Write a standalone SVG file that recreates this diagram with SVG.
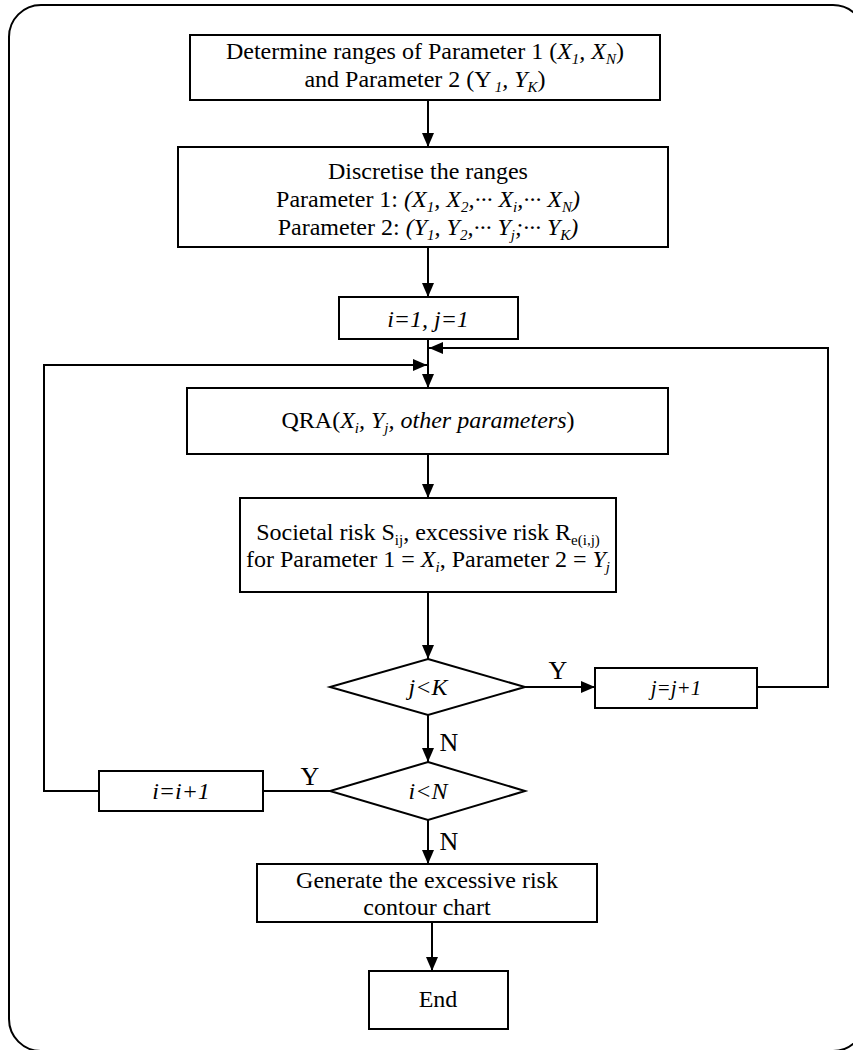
<svg xmlns="http://www.w3.org/2000/svg" width="853" height="1050" viewBox="0 0 853 1050">
<defs>
<marker id="arr" viewBox="0 0 14 12" refX="14" refY="6" markerWidth="14" markerHeight="12" markerUnits="userSpaceOnUse" orient="auto">
<path d="M0,0 L14,6 L0,12 Z" fill="#000"/>
</marker>
</defs>
<style>
.b{fill:#fff;stroke:#000;stroke-width:2}
.t{font-family:"Liberation Serif","Times New Roman",serif;font-size:24px;fill:#000;text-anchor:middle}
.l{font-size:26px}
.i{font-style:italic}
.s{font-size:15px}
.c{fill:none;stroke:#000;stroke-width:2}
.a{marker-end:url(#arr)}
</style>
<rect x="9" y="5" width="856" height="1046" rx="32" fill="#fff" stroke="#000" stroke-width="2"/>
<g id="connectors">
<line class="c a" x1="428" y1="100" x2="428" y2="147"/>
<line class="c a" x1="428" y1="247" x2="428" y2="297"/>
<line class="c a" x1="428" y1="339" x2="428" y2="388"/>
<polyline class="c a" points="757,687 828,687 828,348 429,348"/>
<polyline class="c a" points="99,791 44,791 44,365 427,365"/>
<line class="c a" x1="428" y1="454" x2="428" y2="498"/>
<line class="c a" x1="428" y1="592" x2="428" y2="659"/>
<line class="c a" x1="525" y1="687" x2="595" y2="687"/>
<line class="c a" x1="428" y1="715" x2="428" y2="762"/>
<line class="c" x1="330" y1="791" x2="263" y2="791"/>
<line class="c a" x1="428" y1="820" x2="428" y2="864"/>
<line class="c a" x1="432" y1="922" x2="432" y2="971"/>
<text class="t l" x="558" y="679">Y</text>
<text class="t l" x="310" y="785">Y</text>
<text class="t l" x="449" y="751">N</text>
<text class="t l" x="449" y="850">N</text>
</g>
<g id="n1">
<rect class="b" x="190" y="35" width="470" height="65"/>
<text class="t" x="425" y="59">Determine ranges of Parameter 1 (<tspan class="i">X</tspan><tspan class="i s" dy="5">1</tspan><tspan class="i" dy="-5">, X</tspan><tspan class="i s" dy="5">N</tspan><tspan dy="-5">)</tspan></text>
<text class="t" x="425" y="87">and Parameter 2 (Y<tspan class="i s" dx="3" dy="5">1</tspan><tspan class="i" dy="-5">,  Y</tspan><tspan class="i s" dy="5">K</tspan><tspan dy="-5">)</tspan></text>
</g>
<g id="n2">
<rect class="b" x="178" y="147" width="490" height="100"/>
<text class="t" x="428" y="179">Discretise the ranges</text>
<text class="t" x="428" y="207">Parameter 1: <tspan class="i">(X</tspan><tspan class="i s" dy="5">1</tspan><tspan class="i" dy="-5">, X</tspan><tspan class="i s" dy="5">2</tspan><tspan class="i" dy="-5">,··· X</tspan><tspan class="i s" dy="5">i</tspan><tspan class="i" dy="-5">,··· X</tspan><tspan class="i s" dy="5">N</tspan><tspan class="i" dy="-5">)</tspan></text>
<text class="t" x="428" y="235">Parameter 2: <tspan class="i">(Y</tspan><tspan class="i s" dy="5">1</tspan><tspan class="i" dy="-5">,  Y</tspan><tspan class="i s" dy="5">2</tspan><tspan class="i" dy="-5">,···  Y</tspan><tspan class="i s" dy="5">j</tspan><tspan class="i" dy="-5">;··· Y</tspan><tspan class="i s" dy="5">K</tspan><tspan class="i" dy="-5">)</tspan></text>
</g>
<g id="n3">
<rect class="b" x="339" y="297" width="179" height="42"/>
<text class="t i" x="428" y="327">i=1, j=1</text>
</g>
<g id="n4">
<rect class="b" x="187" y="388" width="481" height="66"/>
<text class="t" x="428" y="428">QRA(<tspan class="i">X</tspan><tspan class="i s" dy="5">i</tspan><tspan class="i" dy="-5">, Y</tspan><tspan class="i s" dy="5">j</tspan><tspan class="i" dy="-5">, other parameters</tspan>)</text>
</g>
<g id="n5">
<rect class="b" x="240" y="498" width="376" height="94"/>
<text class="t" x="428" y="540">Societal risk S<tspan class="s" dy="5">ij</tspan><tspan dy="-5">, excessive risk R</tspan><tspan class="s" dy="5">e(i,j)</tspan></text>
<text class="t" x="428" y="567">for Parameter 1 = <tspan class="i">X</tspan><tspan class="i s" dy="5">i</tspan><tspan dy="-5">, Parameter 2 = </tspan><tspan class="i">Y</tspan><tspan class="i s" dy="5">j</tspan></text>
</g>
<g id="d1">
<polygon class="b" points="428,659 525,687 428,715 330,687"/>
<text class="t i" x="428" y="695">j&lt;K</text>
</g>
<g id="n6">
<rect class="b" x="595" y="668" width="162" height="40"/>
<text class="t i" x="676" y="695" style="font-size:21px">j=j+1</text>
</g>
<g id="d2">
<polygon class="b" points="428,762 525,791 428,820 330,791"/>
<text class="t i" x="428" y="799">i&lt;N</text>
</g>
<g id="n7">
<rect class="b" x="99" y="771" width="164" height="40"/>
<text class="t i" x="181" y="799">i=i+1</text>
</g>
<g id="n8">
<rect class="b" x="257" y="864" width="340" height="58"/>
<text class="t" x="427" y="888">Generate the excessive risk</text>
<text class="t" x="427" y="915">contour chart</text>
</g>
<g id="n9">
<rect class="b" x="369" y="971" width="139" height="58"/>
<text class="t" x="438" y="1007">End</text>
</g>
</svg>
